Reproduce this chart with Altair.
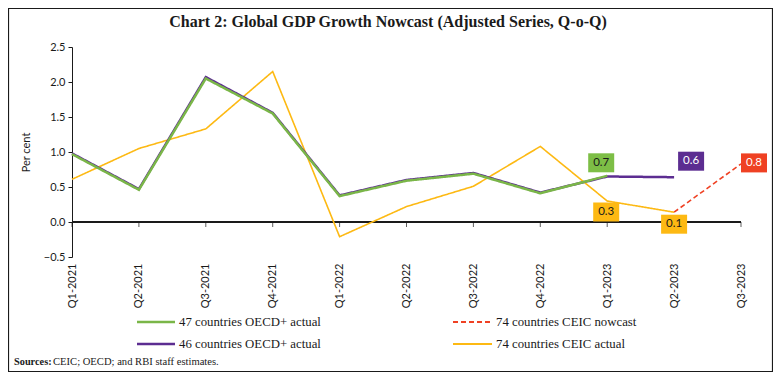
import altair as alt
import pandas as pd

# ---------------- data ----------------
quarters = ["Q1-2021", "Q2-2021", "Q3-2021", "Q4-2021", "Q1-2022", "Q2-2022",
            "Q3-2022", "Q4-2022", "Q1-2023", "Q2-2023", "Q3-2023"]
oecd47 = [0.97, 0.46, 2.05, 1.55, 0.37, 0.59, 0.69, 0.41, 0.66, None, None]
oecd46 = [0.98, 0.47, 2.07, 1.56, 0.38, 0.60, 0.70, 0.42, 0.65, 0.64, None]
ceic_actual = [0.61, 1.05, 1.33, 2.15, -0.21, 0.22, 0.51, 1.08, 0.30, 0.14, None]
ceic_nowcast = [None, None, None, None, None, None, None, None, None, 0.14, 0.83]

series_names = ["47 countries OECD+ actual", "46 countries OECD+ actual",
                "74 countries CEIC nowcast", "74 countries CEIC actual"]
series_values = [oecd47, oecd46, ceic_nowcast, ceic_actual]

# data labels: (quarter, value)
label_quarters = ["Q1-2023", "Q2-2023", "Q3-2023", "Q1-2023", "Q2-2023"]
label_values = [0.66, 0.64, 0.83, 0.30, 0.14]

y_ticks = [-0.5, 0.0, 0.5, 1.0, 1.5, 2.0, 2.5]

title_text = "Chart 2: Global GDP Growth Nowcast (Adjusted Series, Q-o-Q)"
source_bold = "Sources:"
source_rest = "CEIC; OECD; and RBI staff estimates."

# ---------------- styles ----------------
colors = ["#7AB648", "#5C2D91", "#EF4123", "#FDB913"]
dashes = [[1, 0], [1, 0], [5, 3], [1, 0]]
widths = [2.5, 2.5, 1.6, 1.6]
draw_order = [3, 1, 0, 2]  # yellow, purple, green, red

# legend entry placement (pixels relative to plot area): line x0, x1, row y
legend_x0 = [65, 65, 381, 381]
legend_x1 = [103, 103, 420, 420]
legend_y = [275, 297, 275, 297]
legend_w = [2.5, 2.5, 2.0, 2.0]

label_fill = ["#7DBE46", "#5C2D91", "#EF4123", "#FDB913", "#FDB913"]
label_text = ["#1a1a1a", "#ffffff", "#ffffff", "#1a1a1a", "#1a1a1a"]
label_dx = [-6, 17, 13, -1, 0]
label_dy = [-13, -16, -1, 11, 12]

SANS = "Lato"
SERIF = "Liberation Serif"
INK = "#1a1a1a"
W, H = 669, 210

rows = []
for name, vals in zip(series_names, series_values):
    for q, v in zip(quarters, vals):
        if v is not None:
            rows.append({"quarter": q, "value": v, "series": name})
df = pd.DataFrame(rows)

x_enc = alt.X("quarter:N", sort=quarters,
              scale=alt.Scale(type="point", padding=0, domain=quarters),
              axis=alt.Axis(title=None, labelAngle=-90, domain=False, ticks=False,
                            labelPadding=6, labelFont=SANS, labelFontSize=11,
                            labelColor=INK))
y_enc = alt.Y("value:Q",
              scale=alt.Scale(domain=[-0.5, 2.5], nice=False, zero=False),
              axis=alt.Axis(title="Per cent", values=y_ticks,
                            format=".1f", grid=False, tickSize=4, tickColor=INK,
                            domainColor=INK, labelFont=SANS, labelFontSize=11,
                            labelColor=INK, labelPadding=3, labelOverlap=False,
                            titleFont=SANS, titleFontSize=11,
                            titleFontWeight="normal", titleColor=INK,
                            titlePadding=12))

color_enc = alt.Color("series:N", scale=alt.Scale(domain=series_names, range=colors),
                      legend=None)
dash_enc = alt.StrokeDash("series:N",
                          scale=alt.Scale(domain=series_names, range=dashes),
                          legend=None)

# zero line and its ticks
zero_df = pd.DataFrame({"quarter": quarters, "value": [0.0] * len(quarters)})
zero_rule = alt.Chart(zero_df).mark_rule(color=INK, strokeWidth=1).encode(y=y_enc)
zero_ticks = alt.Chart(zero_df).mark_tick(orient="vertical", size=5, yOffset=2.5,
                                          thickness=1, color=INK).encode(
    x=x_enc, y=y_enc)

line_layers = []
for i in draw_order:
    line_layers.append(
        alt.Chart(df).transform_filter(alt.datum.series == series_names[i])
        .mark_line(strokeWidth=widths[i])
        .encode(x=x_enc, y=y_enc, color=color_enc, strokeDash=dash_enc)
    )

label_layers = []
for i in range(len(label_values)):
    ldf = pd.DataFrame({"quarter": [label_quarters[i]], "value": [label_values[i]]})
    label_layers.append(
        alt.Chart(ldf).mark_rect(width=26, height=19, color=label_fill[i],
                                 xOffset=label_dx[i], yOffset=label_dy[i])
        .encode(x=x_enc, y=y_enc))
    label_layers.append(
        alt.Chart(ldf).mark_text(font=SANS, fontSize=11.5, color=label_text[i],
                                 dx=label_dx[i], dy=label_dy[i], baseline="middle",
                                 align="center")
        .encode(x=x_enc, y=y_enc, text=alt.Text("value:Q", format=".1f")))

# manual legend
legend_layers = []
for i, name in enumerate(series_names):
    ldf = pd.DataFrame({"series": [name]})
    legend_layers.append(
        alt.Chart(ldf).mark_rule(color=colors[i], strokeWidth=legend_w[i],
                                 strokeDash=dashes[i])
        .encode(x=alt.value(legend_x0[i]), x2=alt.value(legend_x1[i]),
                y=alt.value(legend_y[i])))
    legend_layers.append(
        alt.Chart(ldf).mark_text(font=SERIF, fontSize=12.8, color=INK, align="left",
                                 baseline="middle")
        .encode(x=alt.value(legend_x1[i] + 4), y=alt.value(legend_y[i]),
                text="series:N"))

txt_df = pd.DataFrame({"title": [title_text], "t": [source_bold], "u": [source_rest]})
title_mark = alt.Chart(txt_df).mark_text(font=SERIF, fontSize=16, fontWeight="bold",
                                         align="center", baseline="middle",
                                         color=INK).encode(
    x=alt.value(316), y=alt.value(-25), text="title:N")
src_bold = alt.Chart(txt_df).mark_text(font=SERIF, fontSize=10.3, fontWeight="bold",
                                       align="left", baseline="middle", color=INK).encode(
    x=alt.value(-58), y=alt.value(315), text="t:N")
src_text = alt.Chart(txt_df).mark_text(font=SERIF, fontSize=10.6, align="left",
                                       baseline="middle", color=INK).encode(
    x=alt.value(-19), y=alt.value(315), text="u:N")

border = alt.Chart(txt_df).mark_rect(fill="white", fillOpacity=0, stroke=INK,
                                     strokeWidth=1.2).encode(
    x=alt.value(-63.5), x2=alt.value(700.5), y=alt.value(-38.5), y2=alt.value(324.5))

chart = alt.layer(
    border, zero_rule, zero_ticks, *line_layers, *label_layers, *legend_layers,
    title_mark, src_bold, src_text
).resolve_scale(color="shared", strokeDash="shared").properties(
    width=W, height=H,
    autosize=alt.AutoSizeParams(type="none"),
    padding={"left": 64, "top": 39, "right": 32, "bottom": 115},
).configure_view(stroke=None)

chart.save("out.html", embed_options={"renderer": "svg", "actions": False})
